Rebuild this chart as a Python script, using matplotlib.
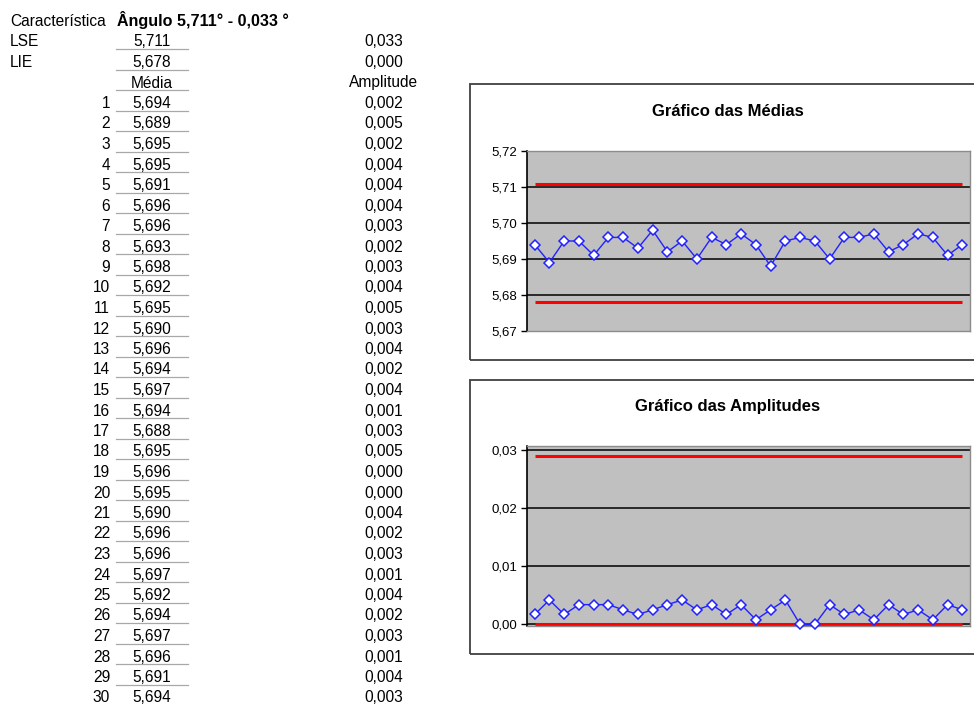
import numpy as np
import matplotlib
matplotlib.use("Agg")
import matplotlib.pyplot as plt
from matplotlib.patches import Rectangle
from matplotlib.lines import Line2D

# data read from the sheet
lse = 5.711
lie = 5.678
amp_lse = 0.033
amp_lie = 0.000
amp_ucl = 0.029  # upper red line on the amplitude chart

medias = [5.694, 5.689, 5.695, 5.695, 5.691, 5.696, 5.696, 5.693, 5.698, 5.692,
          5.695, 5.690, 5.696, 5.694, 5.697, 5.694, 5.688, 5.695, 5.696, 5.695,
          5.690, 5.696, 5.696, 5.697, 5.692, 5.694, 5.697, 5.696, 5.691, 5.694]

# amplitudes as printed in the table (3 decimals)
amp_table = [0.002, 0.005, 0.002, 0.004, 0.004, 0.004, 0.003, 0.002, 0.003, 0.004,
             0.005, 0.003, 0.004, 0.002, 0.004, 0.001, 0.003, 0.005, 0.000, 0.000,
             0.004, 0.002, 0.003, 0.001, 0.004, 0.002, 0.003, 0.001, 0.004, 0.003]

# amplitudes as drawn in the chart
amp_chart = [0.0017, 0.0042, 0.0017, 0.0034, 0.0034, 0.0034, 0.0025, 0.0017, 0.0025, 0.0034,
             0.0042, 0.0025, 0.0034, 0.0017, 0.0034, 0.0008, 0.0025, 0.0042, 0.0, 0.0,
             0.0034, 0.0017, 0.0025, 0.0008, 0.0034, 0.0017, 0.0025, 0.0008, 0.0034, 0.0025]

media_ticks = [5.67, 5.68, 5.69, 5.70, 5.71, 5.72]
amp_ticks = [0.00, 0.01, 0.02, 0.03]

W, H = 974, 706
plt.rcParams["font.family"] = ["Liberation Sans", "DejaVu Sans"]

fig = plt.figure(figsize=(W / 100, H / 100), dpi=100)


def fx(x):
    return x / W


def fy(y):
    return 1 - y / H


def fmt(v, nd):
    return f"{v:.{nd}f}".replace(".", ",")


# ---- table on the left ----
row0 = 26.0
rowh = 20.5
fs = 11.2
col_val = 152
col_amp = 384

def base(i):
    return fy(row0 + rowh * i)

fig.text(fx(10), base(0), "Característica", fontsize=fs, va="baseline")
fig.text(fx(117), base(0), "Ângulo 5,711° - 0,033 °", fontsize=11.6,
         fontweight="bold", va="baseline")

fig.text(fx(10), base(1), "LSE", fontsize=fs, va="baseline")
fig.text(fx(col_val), base(1), fmt(lse, 3), fontsize=fs, va="baseline", ha="center")
fig.text(fx(col_amp), base(1), fmt(amp_lse, 3), fontsize=fs, va="baseline", ha="center")

fig.text(fx(10), base(2), "LIE", fontsize=fs, va="baseline")
fig.text(fx(col_val), base(2), fmt(lie, 3), fontsize=fs, va="baseline", ha="center")
fig.text(fx(col_amp), base(2), fmt(amp_lie, 3), fontsize=fs, va="baseline", ha="center")

fig.text(fx(col_val), base(3), "Média", fontsize=fs, va="baseline", ha="center")
fig.text(fx(col_amp), base(3), "Amplitude", fontsize=fs, va="baseline", ha="center")

for k, (m, a) in enumerate(zip(medias, amp_table)):
    i = k + 4
    fig.text(fx(110), base(i), str(k + 1), fontsize=fs, va="baseline", ha="right")
    fig.text(fx(col_val), base(i), fmt(m, 3), fontsize=fs, va="baseline", ha="center")
    fig.text(fx(col_amp), base(i), fmt(a, 3), fontsize=fs, va="baseline", ha="center")

# cell bottom borders under the value column
for i in range(1, len(medias) + 3):
    yy = fy(row0 + rowh * i + 2.8)
    fig.add_artist(Line2D([fx(116), fx(188)], [yy, yy], color="#a8a8a8", lw=0.9))

# ---- chart frames ----
for top, bottom in [(84, 360), (380, 654)]:
    fig.add_artist(Rectangle((fx(470), fy(bottom)), fx(520), (bottom - top) / H,
                             fill=False, edgecolor="#404040", lw=1.3))


def control_chart(ax, values, upper, lower, ticks, ylim, labels_nd):
    x = np.arange(1, len(values) + 1)
    ax.set_facecolor("#c0c0c0")
    ax.set_xlim(0.5, len(values) + 0.5)
    ax.set_ylim(*ylim)
    for t in ticks:
        if ylim[0] < t < ylim[1]:
            ax.axhline(t, color="black", lw=1.1, zorder=1)
    ax.plot(x, np.full(len(x), upper), color="#ff0000", lw=2.2, zorder=2,
            solid_capstyle="butt")
    ax.plot(x, np.full(len(x), lower), color="#ff0000", lw=2.2, zorder=2,
            solid_capstyle="butt")
    ax.plot(x, values, color="#2222ff", lw=1.0, marker="D", markersize=4.6,
            markerfacecolor="white", markeredgecolor="#2222ff",
            markeredgewidth=1.1, zorder=3, clip_on=False)
    ax.set_xticks([])
    ax.set_yticks(ticks)
    ax.set_yticklabels([fmt(t, labels_nd) for t in ticks], fontsize=9.5)
    ax.tick_params(axis="y", direction="out", length=4, width=1, pad=3)
    for side in ["top", "right", "bottom"]:
        ax.spines[side].set_color("#8c8c8c")
        ax.spines[side].set_linewidth(1.0)
    ax.spines["left"].set_color("black")
    ax.spines["left"].set_linewidth(1.2)


# ---- Gráfico das Médias ----
ax1 = fig.add_axes([fx(527.3), fy(330.7), (969.7 - 527.3) / W, (330.7 - 151.3) / H])
control_chart(ax1, medias, lse, lie, media_ticks, (5.67, 5.72), 2)
fig.text(fx(728), fy(111), "Gráfico das Médias", fontsize=12, fontweight="bold",
         ha="center", va="center")

# ---- Gráfico das Amplitudes ----
ax2 = fig.add_axes([fx(527.3), fy(625.7), (969.7 - 527.3) / W, (625.7 - 446.0) / H])
control_chart(ax2, amp_chart, amp_ucl, amp_lie, amp_ticks, (-0.00023, 0.0307), 2)
fig.text(fx(728), fy(406), "Gráfico das Amplitudes", fontsize=12, fontweight="bold",
         ha="center", va="center")

fig.savefig("out.png", dpi=100, facecolor="white")
